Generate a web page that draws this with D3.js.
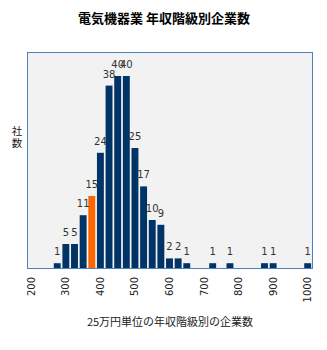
<!DOCTYPE html>
<html>
<head>
<meta charset="utf-8">
<script src="https://cdn.jsdelivr.net/npm/d3@7"></script>
<style>
  body { margin: 0; background: #fff; }
  svg { display: block; font-family: "DejaVu Sans", sans-serif; }
</style>
</head>
<body>
<svg id="chart" width="327" height="350"></svg>
<script>
// 25万円 steps from 200 to 1000
var categories = ["200","225","250","275","300","325","350","375","400","425","450","475","500",
  "525","550","575","600","625","650","675","700","725","750","775","800","825","850","875",
  "900","925","950","975","1000"];
var counts = [0,0,0,1,5,5,11,15,24,38,40,40,25,17,10,9,2,2,1,0,0,1,0,1,0,0,0,1,1,0,0,0,1];
var tickLabels = ["200","300","400","500","600","700","800","900","1000"];
var highlight = "375";

var title = "電気機器業 年収階級別企業数";
var xTitle = "25万円単位の年収階級別の企業数";
var yTitle = ["社", "数"];

var svg = d3.select('#chart');
// note: "top" is taken by window.top, so use plot* names
var plotLeft = 27, plotRight = 312, plotTop = 52, plotBottom = 268;

var x = d3.scaleBand()
  .domain(categories)
  .range([plotLeft, plotRight])
  .paddingInner(0.2)
  .paddingOuter(0.1);

var y = d3.scaleLinear()
  .domain([0, 45])
  .range([plotBottom, plotTop]);

// plot background + frame
svg.append('rect')
  .attr('x', plotLeft + 0.5)
  .attr('y', plotTop + 0.5)
  .attr('width', plotRight - plotLeft)
  .attr('height', plotBottom - plotTop)
  .attr('fill', '#f2f2f2')
  .attr('stroke', '#4f81bd')
  .attr('stroke-width', 1);

var data = categories.map(function(c, i) { return { cat: c, val: counts[i] }; })
  .filter(function(d) { return d.val > 0; });

svg.selectAll('rect.bar')
  .data(data)
  .enter()
  .append('rect')
  .attr('class', 'bar')
  .attr('x', function(d) { return x(d.cat); })
  .attr('y', function(d) { return y(d.val); })
  .attr('width', x.bandwidth())
  .attr('height', function(d) { return plotBottom - y(d.val); })
  .attr('fill', function(d) { return d.cat === highlight ? '#ff6600' : '#003366'; });

// redraw bottom border over bars
svg.append('line')
  .attr('x1', plotLeft).attr('x2', plotRight + 1)
  .attr('y1', plotBottom + 0.5).attr('y2', plotBottom + 0.5)
  .attr('stroke', '#4f81bd');

svg.selectAll('text.lbl')
  .data(data)
  .enter()
  .append('text')
  .attr('class', 'lbl')
  .attr('x', function(d) { return x(d.cat) + x.bandwidth() / 2; })
  .attr('y', function(d) { return y(d.val) - 8; })
  .attr('text-anchor', 'middle')
  .attr('font-size', 10)
  .attr('fill', '#333')
  .text(function(d) { return d.val; });

// x axis tick labels, rotated
var xAxis = d3.axisBottom(x)
  .tickValues(tickLabels)
  .tickSize(0)
  .tickPadding(0);

var gx = svg.append('g')
  .attr('transform', 'translate(0,' + plotBottom + ')')
  .call(xAxis);
gx.select('.domain').remove();
gx.selectAll('text')
  .attr('font-family', '"DejaVu Sans", sans-serif')
  .attr('font-size', 10)
  .attr('fill', '#222')
  .attr('transform', 'rotate(-90)')
  .attr('x', -9)
  .attr('y', 0)
  .attr('dy', '0.35em')
  .attr('text-anchor', 'end');

svg.append('text')
  .attr('x', 164)
  .attr('y', 23)
  .attr('text-anchor', 'middle')
  .attr('font-size', 13)
  .attr('font-weight', 'bold')
  .attr('font-family', '"Noto Sans CJK JP", sans-serif')
  .text(title);

svg.append('text')
  .attr('x', 170)
  .attr('y', 326)
  .attr('text-anchor', 'middle')
  .attr('font-size', 11)
  .attr('font-family', '"Noto Sans CJK JP", sans-serif')
  .attr('fill', '#222')
  .text(xTitle);

// stacked vertical y title as one text element
svg.append('text')
  .attr('x', 17)
  .attr('y', 135)
  .attr('text-anchor', 'middle')
  .attr('font-size', 10.5)
  .attr('font-family', '"Noto Sans CJK JP", sans-serif')
  .attr('fill', '#222')
  .selectAll('tspan')
  .data(yTitle)
  .enter()
  .append('tspan')
  .attr('x', 17)
  .attr('dy', function(d, i) { return i === 0 ? 0 : 12; })
  .text(function(d) { return d; });
</script>
</body>
</html>
